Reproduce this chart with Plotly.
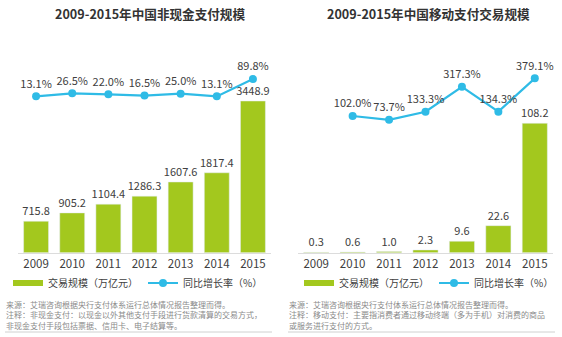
import plotly.graph_objects as go
from plotly.subplots import make_subplots

# ---- data -------------------------------------------------------------
years = ["2009", "2010", "2011", "2012", "2013", "2014", "2015"]

noncash_volume = [715.8, 905.2, 1104.4, 1286.3, 1607.6, 1817.4, 3448.9]
noncash_growth = [13.1, 26.5, 22.0, 16.5, 25.0, 13.1, 89.8]

mobile_volume = [0.3, 0.6, 1.0, 2.3, 9.6, 22.6, 108.2]
mobile_growth = [None, 102.0, 73.7, 133.3, 317.3, 134.3, 379.1]

title_left = "2009-2015年中国非现金支付规模"
title_right = "2009-2015年中国移动支付交易规模"
bar_name = "交易规模（万亿元）"
line_name = "同比增长率（%）"

notes_left = [
    "来源：艾瑞咨询根据央行支付体系运行总体情况报告整理而得。",
    "注释：非现金支付：以现金以外其他支付手段进行货款清算的交易方式，",
    "非现金支付手段包括票据、信用卡、电子结算等。",
]
notes_right = [
    "来源：艾瑞咨询根据央行支付体系运行总体情况报告整理而得。",
    "注释：移动支付：主要指消费者通过移动终端（多为手机）对消费的商品",
    "或服务进行支付的方式。",
]

# ---- style ------------------------------------------------------------
GREEN = "#a3c81e"
BLUE = "#2fbbe6"
TEXT = "#404040"
FONT = "Noto Sans CJK SC"
W, H = 562, 337

fig = make_subplots(rows=1, cols=2,
                    specs=[[{"secondary_y": True}, {"secondary_y": True}]])


def pct(vals):
    return [None if v is None else f"{v:.1f}%" for v in vals]


def add_panel(col, volume, growth, legend_id):
    fig.add_trace(go.Bar(
        x=years, y=volume, marker_color=GREEN, showlegend=False,
        text=[f"{v:.1f}" for v in volume], textposition="outside",
        constraintext="none",
        textfont=dict(size=11, color=TEXT, family=FONT), cliponaxis=False,
        width=0.69, hoverinfo="x+y",
    ), row=1, col=col, secondary_y=False)
    # legend entry for the bars, drawn as a flat swatch
    fig.add_trace(go.Scatter(
        x=[None], y=[None], mode="lines", name=bar_name,
        line=dict(color=GREEN, width=6), legend=legend_id,
    ), row=1, col=col, secondary_y=False)
    fig.add_trace(go.Scatter(
        x=years, y=growth, mode="lines+markers+text", name=line_name,
        line=dict(color=BLUE, width=2.2), marker=dict(color=BLUE, size=8),
        text=pct(growth), textposition="top center",
        textfont=dict(size=11, color=TEXT, family=FONT), cliponaxis=False,
        connectgaps=False, legend=legend_id,
    ), row=1, col=col, secondary_y=True)


add_panel(1, noncash_volume, noncash_growth, "legend")
add_panel(2, mobile_volume, mobile_growth, "legend2")

y_bottom = (H - 252.7) / H
y_top = (H - 40) / H
dom_left = [18 / W, 271 / W]
dom_right = [298 / W, 553 / W]

xa = dict(showline=True, linecolor="#dcdcdc", linewidth=1, ticks="",
          showgrid=False, tickfont=dict(size=11.5, color=TEXT, family=FONT))
ya = dict(visible=False, showgrid=False, zeroline=False)

fig.update_layout(
    xaxis=dict(domain=dom_left, **xa),
    xaxis2=dict(domain=dom_right, **xa),
    yaxis=dict(domain=[y_bottom, y_top], range=[0, 4836], **ya),
    yaxis2=dict(range=[-680, 263], **ya),
    yaxis3=dict(domain=[y_bottom, y_top], range=[0, 177.8], **ya),
    yaxis4=dict(range=[-903, 661], **ya),
)

legend_style = dict(orientation="h", yanchor="middle", xanchor="left",
                    y=(H - 283) / H, font=dict(size=10, color=TEXT, family=FONT),
                    itemwidth=30, bgcolor="rgba(0,0,0,0)", tracegroupgap=0)
fig.update_layout(
    legend=dict(x=8 / W, **legend_style),
    legend2=dict(x=299 / W, **legend_style),
)

annotations = [
    dict(text=f"<b>{title_left}</b>", x=150 / W, y=(H - 14) / H),
    dict(text=f"<b>{title_right}</b>", x=428 / W, y=(H - 14) / H),
]
for a in annotations:
    a.update(xref="paper", yref="paper", showarrow=False, xanchor="center",
             yanchor="middle", font=dict(size=12.6, color="#333333", family=FONT))

# footnotes, one block per panel
for x0, lines in ((5, notes_left), (288, notes_right)):
    annotations.append(dict(
        text="<br>".join(lines), xref="paper", yref="paper",
        x=x0 / W, y=(H - 297.5) / H, xanchor="left", yanchor="top",
        align="left", showarrow=False, borderpad=0,
        font=dict(size=8, color="#8a8a8a", family=FONT)))
fig.update_layout(annotations=annotations)

# thin rules under the footnotes
fig.update_layout(shapes=[
    dict(type="line", xref="paper", yref="paper", x0=5 / W, x1=272 / W,
         y0=(H - 332) / H, y1=(H - 332) / H, line=dict(color="#d0d0d0", width=1)),
    dict(type="line", xref="paper", yref="paper", x0=288 / W, x1=555 / W,
         y0=(H - 332) / H, y1=(H - 332) / H, line=dict(color="#d0d0d0", width=1)),
])

fig.update_layout(
    width=W, height=H, margin=dict(l=0, r=0, t=0, b=0),
    paper_bgcolor="white", plot_bgcolor="white",
    bargap=0.31, font=dict(family=FONT, color=TEXT),
)

fig.write_html("out.html")
